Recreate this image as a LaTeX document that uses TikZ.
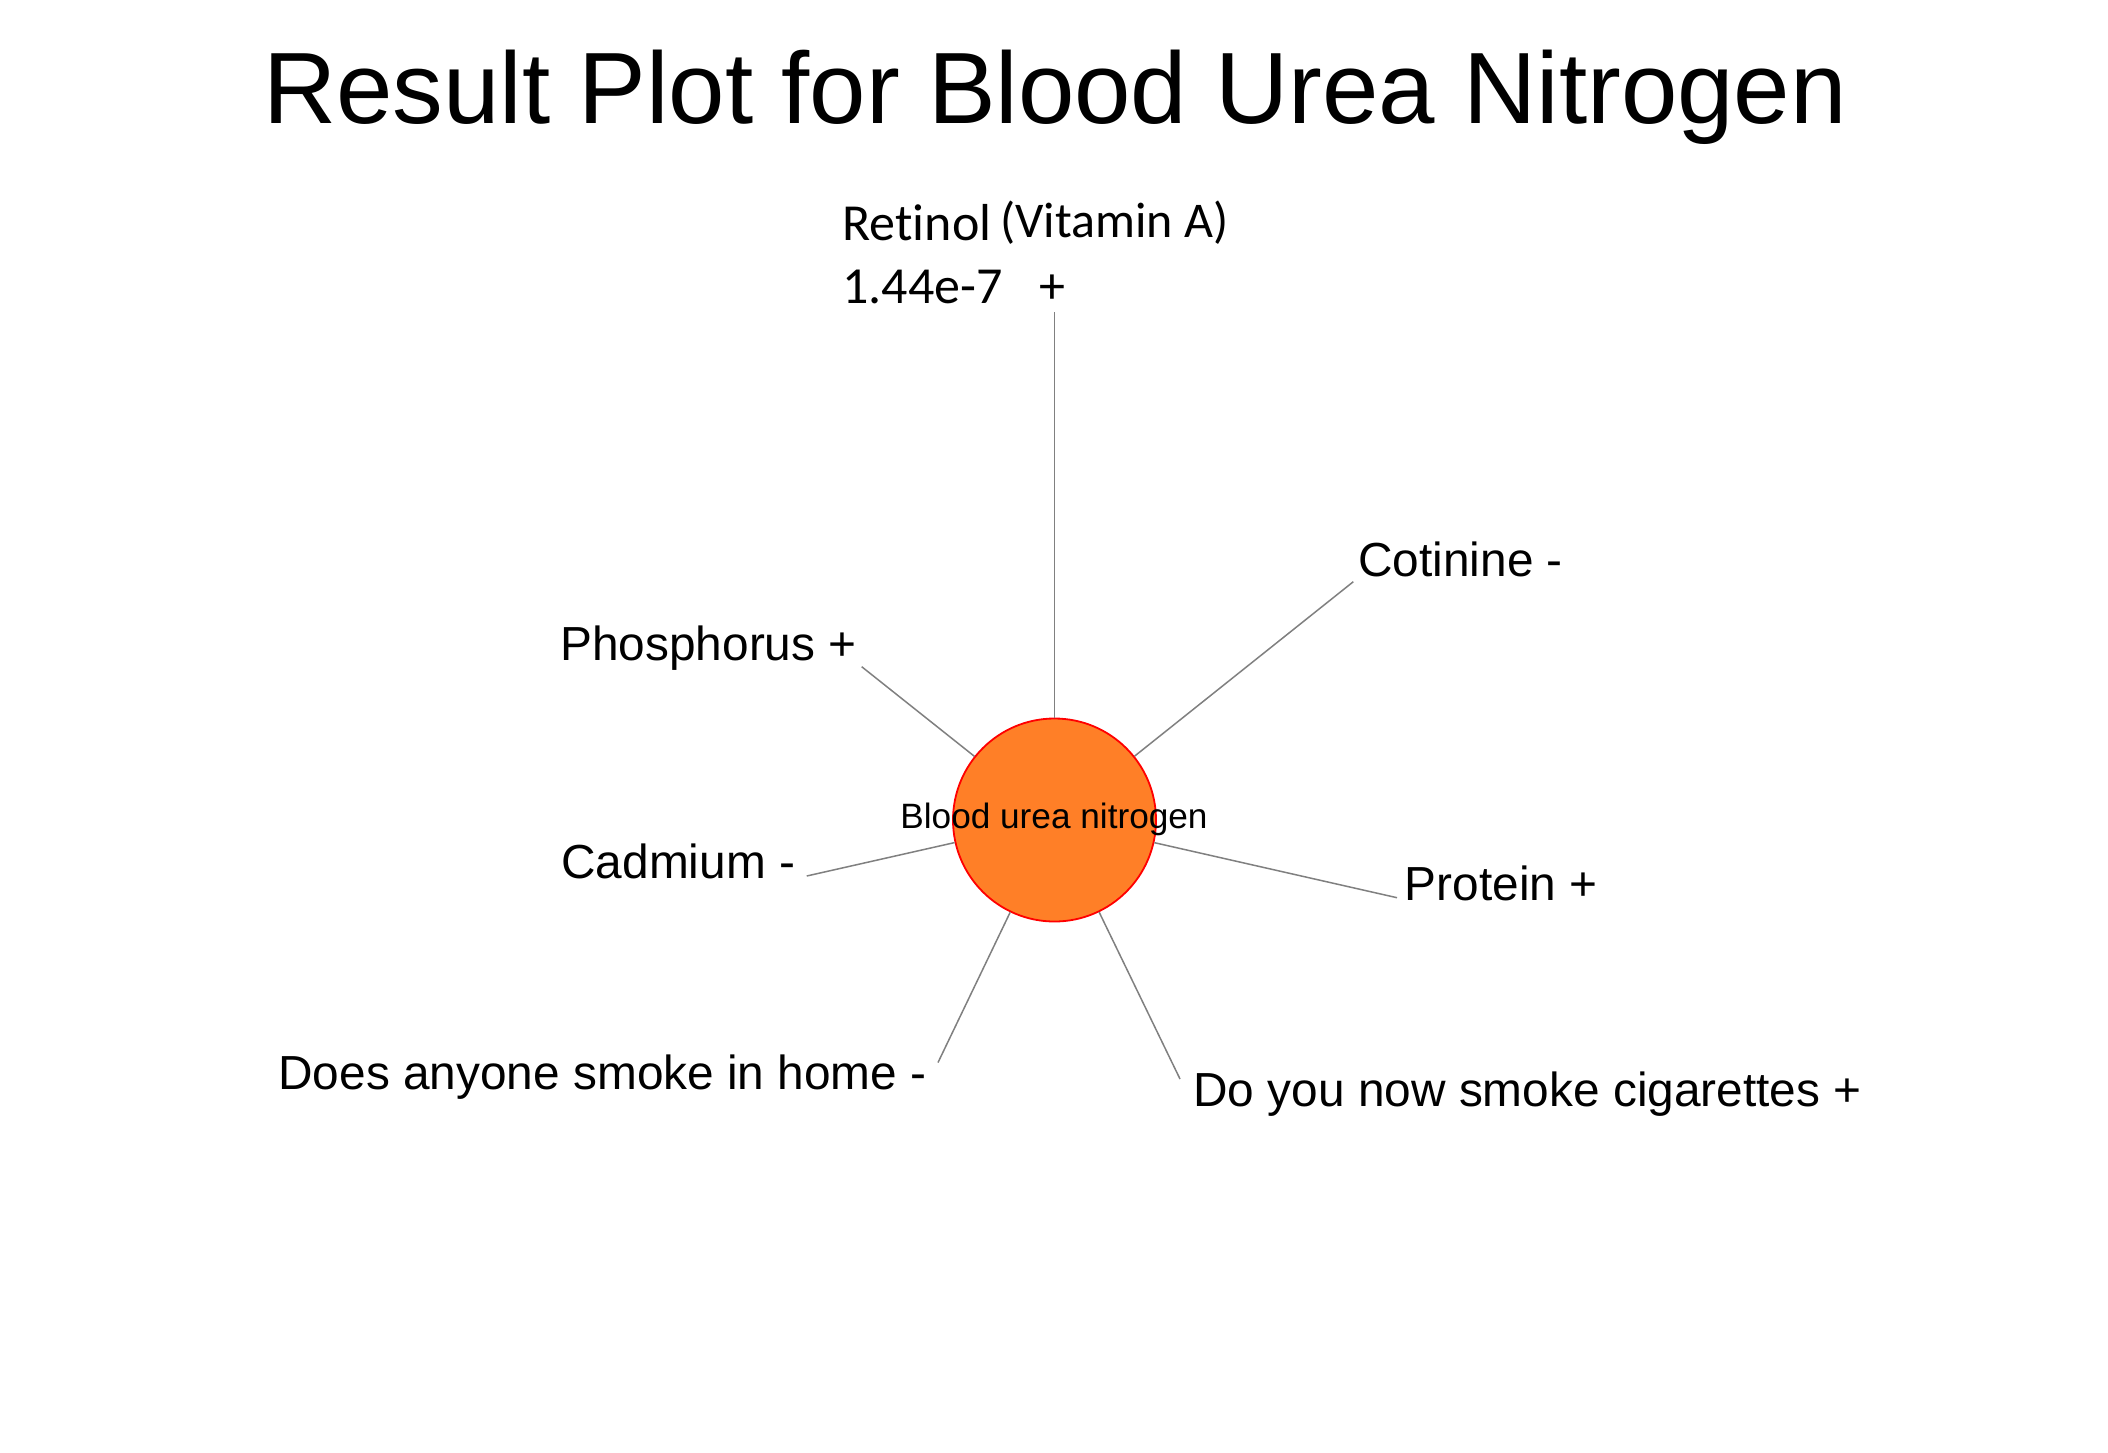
\documentclass[tikz,border=0pt]{standalone}
\usepackage{fontspec}
\setmainfont{Liberation Sans}
\newfontfamily\carlito{Carlito}
\definecolor{bunfill}{RGB}{255,127,39}
\definecolor{connline}{RGB}{128,128,128}
\begin{document}
\begin{tikzpicture}[x=0.5pt,y=-0.5pt,
  lab/.style={inner sep=0pt,anchor=base west,font=\fontsize{23.9pt}{28pt}\selectfont},
  retlab/.style={inner sep=0pt,anchor=base west,font=\carlito\fontsize{26pt}{30pt}\selectfont},
  conn/.style={draw=connline,line width=0.75pt},
  hub/.style={circle,fill=bunfill,draw=red,line width=0.9pt,minimum size=101.5pt,inner sep=0pt}]
\fill[white] (0,0) rectangle (2108,1452);
\useasboundingbox (0,0) rectangle (2108,1452);
% title
\node[inner sep=0pt,anchor=base,font=\fontsize{50.7pt}{60pt}\selectfont] (title) at (1055,123.3) {Result Plot for Blood Urea Nitrogen};
% centre
\node[hub] (c) at (1054.5,820) {};
\node[inner sep=0pt,anchor=base,font=\fontsize{17.6pt}{20pt}\selectfont] (clab) at (1054,828) {Blood urea nitrogen};
% labels
\node[retlab] (ret1) at (842,240) {Ret\kern0pt inol\hspace{4.5pt}{\fontsize{25pt}{30pt}\selectfont\raisebox{1.5pt}{(Vitamin A)}}};
\node[retlab] (ret2) at (842,303.3) {1.44e-7\hspace{18.5pt}+};
\node[lab] (phos) at (560,660) {Phosphorus +};
\node[lab] (cad) at (561,878) {Cadmium -};
\node[lab] (home) at (278,1089.3) {Does anyone smoke in home -};
\node[lab] (cig) at (1193,1106.7) {Do you now smoke cigarettes +};
\node[lab] (prot) at (1404.5,900) {Protein +};
\node[lab] (cot) at (1358,576) {Cotinine -};
% connector ends
\coordinate (eret) at (1054.5,311.7);
\coordinate (ephos) at (861.7,666.7);
\coordinate (ecad) at (806.7,876);
\coordinate (ehome) at (938,1062.5);
\coordinate (ecig) at (1180,1079);
\coordinate (eprot) at (1397,897.7);
\coordinate (ecot) at (1353.3,581.7);
\foreach \e in {eret,ephos,ecad,ehome,ecig,eprot,ecot}
  \draw[conn] (c) -- (\e);
\end{tikzpicture}
\end{document}
